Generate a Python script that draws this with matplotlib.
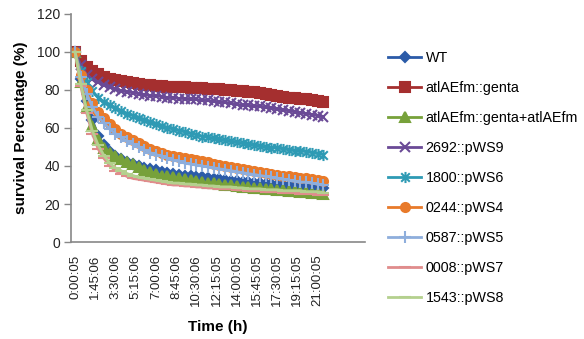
import matplotlib
matplotlib.use("Agg")
import matplotlib.pyplot as plt
from matplotlib.path import Path

plt.rcParams['font.family'] = ['Liberation Sans', 'DejaVu Sans']

# time points (h) and survival percentages
TIME_H = [0, 0.5, 1, 1.5, 2, 2.5, 3, 3.5, 4, 4.5, 5, 5.5, 6, 6.5, 7, 7.5, 8, 8.5, 9, 9.5,
          10, 10.5, 11, 11.5, 12, 12.5, 13, 13.5, 14, 14.5, 15, 15.5, 16, 16.5, 17, 17.5,
          18, 18.5, 19, 19.5, 20, 20.5, 21, 21.5]

WT = [100, 86, 74, 64, 56, 51, 47.5, 45, 43.5, 42, 41, 40, 39, 38.5, 38, 37, 36.5, 36, 35.5, 35,
      34.5, 34, 34, 33.5, 33, 33, 32.5, 32, 32, 31.5, 31.5, 31, 31, 30.5, 30.5, 30,
      30, 29.5, 29.5, 29, 29, 29, 28.5, 28.5]
GENTA = [100, 95, 92, 90, 88.5, 87, 86, 85, 84.5, 84, 83.5, 83, 82.5, 82.5, 82, 82, 81.5, 81.5, 81.5, 81.5,
         81, 81, 81, 80.5, 80.5, 80.5, 80, 80, 79.5, 79.5, 79, 79, 78.5, 78, 77.5, 77,
         76.5, 76, 76, 75.5, 75, 74.5, 74, 73.5]
GENTA_COMP = [100, 84, 71, 61, 54, 49.5, 47, 45, 43.5, 42, 41, 39.5, 38, 37, 36, 35, 34.5, 34, 33.5, 33,
              32.5, 32, 31.5, 31, 31, 30.5, 30, 30, 29.5, 29, 29, 28.5, 28.5, 28, 28, 27.5,
              27.5, 27, 27, 26.5, 26.5, 26, 26, 25.5]
P2692 = [100, 93, 88, 85.5, 84, 82.5, 81.5, 80.5, 79.5, 79, 78.5, 78, 77.5, 77, 77, 76.5, 76, 76, 75.5, 75.5,
         75, 75, 74.5, 74.5, 74, 73.5, 73.5, 73, 72.5, 72, 72, 71.5, 71.5, 71, 70.5, 70,
         69.5, 69, 68.5, 68, 67.5, 67, 66.5, 66]
P1800 = [100, 90, 84, 79.5, 76, 73.5, 72, 70.5, 69, 67.5, 66.5, 65, 64, 63, 62, 61, 60, 59.5, 58.5, 58,
         57, 56.5, 55.5, 55, 54.5, 54, 53.5, 53, 52.5, 52, 51.5, 51, 50.5, 50, 49.5, 49.5,
         49, 48.5, 48, 48, 47.5, 47, 46.5, 46]
P0244 = [100, 88, 80, 73, 68.5, 65, 62, 59.5, 57, 55.5, 53.5, 52, 50.5, 49, 48, 47, 46, 45.5, 44.5, 44,
         43.5, 43, 42.5, 42, 41, 40.5, 40, 39.5, 39, 38.5, 38, 37.5, 37, 36.5, 36, 35.5,
         35, 34.5, 34, 33.5, 33.5, 33, 32.5, 32]
P0587 = [100, 87, 78, 71, 66, 62.5, 59.5, 57, 55, 53, 51.5, 50, 48.5, 47, 46, 45, 44, 43, 42.5, 41.5,
         41, 40.5, 40, 39.5, 39, 38.5, 38, 37.5, 37, 36.5, 36, 35.5, 35, 34.5, 34, 33.5,
         33, 32.5, 32, 31.5, 31.5, 31, 30.5, 30]
P0008 = [100, 82, 68, 57, 49, 44, 40, 37.5, 36, 34.5, 33.5, 33, 32.5, 32, 31.5, 31, 30.5, 30, 30, 29.5,
         29.5, 29, 29, 28.5, 28.5, 28, 28, 28, 27.5, 27.5, 27, 27, 27, 26.5, 26.5, 26.5,
         26, 26, 26, 25.5, 25.5, 25.5, 25, 25]
P1543 = [100, 83, 69.5, 58.5, 51, 45.5, 41.5, 39, 37.5, 36, 35, 34, 33.5, 33, 32.5, 32, 31.5, 31, 31, 30.5,
         30.5, 30, 30, 29.5, 29.5, 29, 29, 29, 28.5, 28.5, 28, 28, 28, 27.5, 27.5, 27.5,
         27, 27, 27, 27, 26.5, 26.5, 26.5, 26]

LABELS = ["WT", "atlAEfm::genta", "atlAEfm::genta+atlAEfm", "2692::pWS9", "1800::pWS6",
          "0244::pWS4", "0587::pWS5", "0008::pWS7", "1543::pWS8"]
TICK_H = [0, 1.75, 3.5, 5.25, 7, 8.75, 10.5, 12.25, 14, 15.75, 17.5, 19.25, 21]
TICK_LABELS = ["0:00:05", "1:45:06", "3:30:06", "5:15:06", "7:00:06", "8:45:06", "10:30:06",
               "12:15:05", "14:00:05", "15:45:05", "17:30:05", "19:15:05", "21:00:05"]

series = [WT, GENTA, GENTA_COMP, P2692, P1800, P0244, P0587, P0008, P1543]
colors = ["#2B5BA8", "#A52F2F", "#77A13A", "#6A4A96", "#2E9AB4",
          "#E87A2A", "#8EAEDC", "#E08C8C", "#B4D08E"]
star = Path([(-1, -1), (1, 1), (-1, 1), (1, -1), (0, -1.3), (0, 1.3)],
            [Path.MOVETO, Path.LINETO, Path.MOVETO, Path.LINETO, Path.MOVETO, Path.LINETO])
markers = ["D", "s", "^", "x", star, "o", "+", "_", "_"]
msizes = [5.5, 7.5, 6.5, 7, 8, 6.5, 8, 8, 9]

fig = plt.figure(figsize=(5.84, 3.39), dpi=100)
ax = fig.add_axes([0.1216, 0.286, 0.5034, 0.673])

for y, lab, c, m, ms in zip(series, LABELS, colors, markers, msizes):
    ax.plot(TIME_H, y, color=c, lw=2, marker=m, ms=ms, mfc=c, mec=c, mew=1.5, label=lab)

ax.set_ylim(0, 120)
ax.set_yticks(range(0, 121, 20))
ax.set_xlim(-0.35, 25.1)
ax.set_xticks(TICK_H)
ax.set_xticklabels(TICK_LABELS, rotation=90)
ax.tick_params(axis="x", length=0, pad=9, labelsize=9.5, colors="#222222")
ax.tick_params(axis="y", length=5, width=1, direction="out", pad=3, labelsize=10,
               colors="#888888", labelcolor="#222222")
for s in ["top", "right"]:
    ax.spines[s].set_visible(False)
for s in ["left", "bottom"]:
    ax.spines[s].set_color("#888888")
    ax.spines[s].set_linewidth(1.2)

ax.set_ylabel("survival Percentage (%)", fontsize=11, fontweight="bold", labelpad=6)
ax.set_xlabel("Time (h)", fontsize=11, fontweight="bold", labelpad=10)

fig.legend(loc="upper left", bbox_to_anchor=(0.664, 0.849), frameon=False, fontsize=10.3,
           labelspacing=1.12, handlelength=2.35, handletextpad=0.3,
           borderpad=0, borderaxespad=0)

fig.savefig("out.png", dpi=100, facecolor="white")
